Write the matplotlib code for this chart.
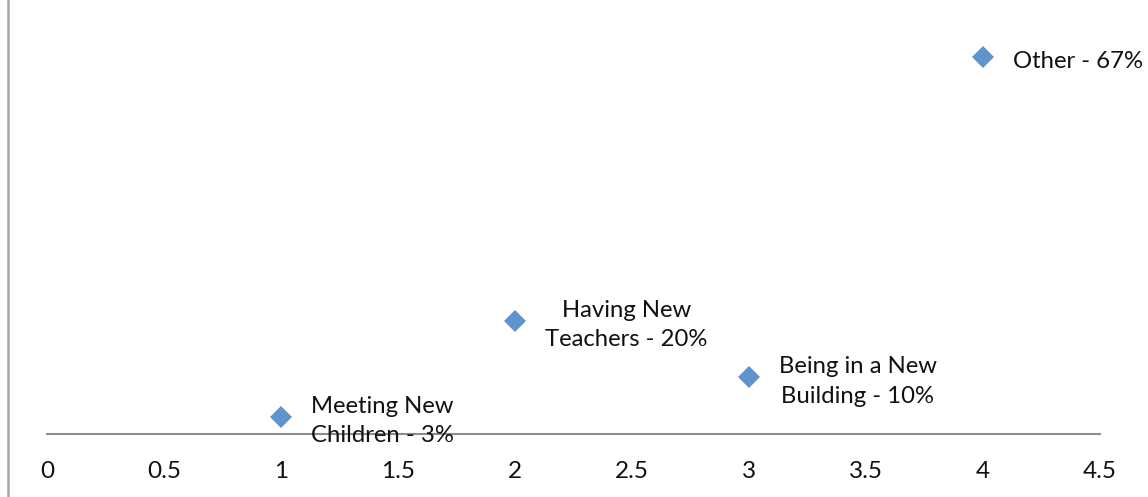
import matplotlib
matplotlib.use("Agg")
import matplotlib.pyplot as plt
from matplotlib.lines import Line2D

plt.rcParams['font.family'] = ['Lato', 'DejaVu Sans']

x_vals = [1, 2, 3, 4]
y_vals = [3, 20, 10, 67]
labels = ["Meeting New\nChildren - 3%", "Having New\nTeachers - 20%",
          "Being in a New\nBuilding - 10%", "Other - 67%"]
x_ticks = [0, 0.5, 1, 1.5, 2, 2.5, 3, 3.5, 4, 4.5]
x_ticklabels = ["0", "0.5", "1", "1.5", "2", "2.5", "3", "3.5", "4", "4.5"]

W, H = 1148, 497
fig = plt.figure(figsize=(W / 100, H / 100), dpi=100)
ax = fig.add_axes([47 / W, (H - 433.5) / H, (1100 - 47) / W, (433.5 - 40) / H])

ax.plot(x_vals, y_vals, linestyle='none', marker='D', markersize=10.8,
        color='#5E93CD', markeredgewidth=0, zorder=3)
for xv, yv, lab in zip(x_vals, y_vals, labels):
    ax.annotate(lab, (xv, yv), xytext=(21.6, -3), textcoords='offset points',
                ha='left', va='center', multialignment='center',
                fontsize=17.2, color='#111111', linespacing=1.5, zorder=4)

ax.set_xlim(0, 4.5)
ax.set_ylim(0, 70)
ax.set_xticks(x_ticks)
ax.set_xticklabels(x_ticklabels, fontsize=17.5, color='#111111')
ax.tick_params(axis='x', length=0, pad=20)
ax.set_yticks([])
for s in ['top', 'right', 'left']:
    ax.spines[s].set_visible(False)
ax.spines['bottom'].set_color('#8c8c8c')
ax.spines['bottom'].set_linewidth(1.5)
ax.spines['bottom'].set_zorder(2)
ax.patch.set_alpha(0)

fig.add_artist(Line2D([7.5 / W, 7.5 / W], [0, 1], color='#a6a6a6', linewidth=1.8,
                      transform=fig.transFigure))

fig.savefig("out.png", dpi=100)
